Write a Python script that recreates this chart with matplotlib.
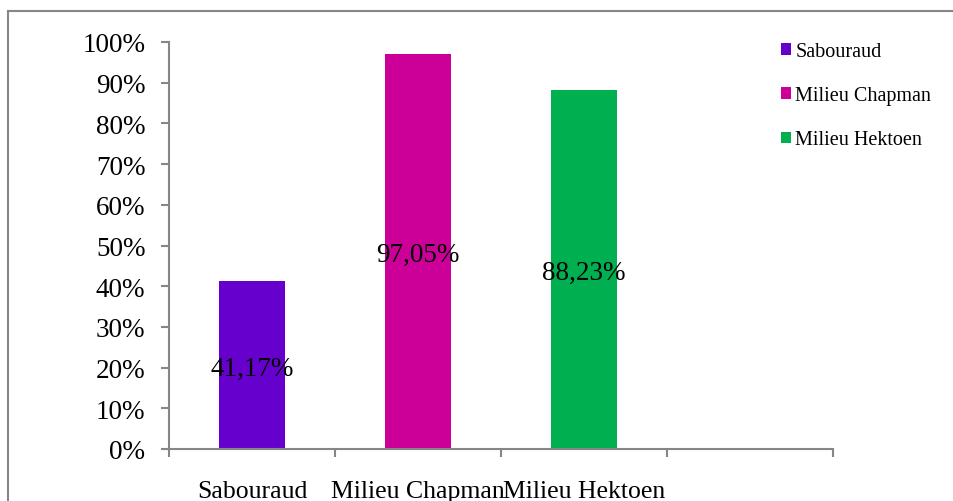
import matplotlib
matplotlib.use("Agg")
import matplotlib.pyplot as plt
from matplotlib.lines import Line2D
from matplotlib.patches import Patch

categories = ["Sabouraud", "Milieu Chapman", "Milieu Hektoen"]
values = [41.17, 97.05, 88.23]
value_labels = ["41,17%", "97,05%", "88,23%"]
colors = ["#6600CC", "#CC0099", "#00B050"]
n_slots = 4
y_ticks = list(range(0, 101, 10))

plt.rcParams["font.family"] = ["Liberation Serif", "DejaVu Serif"]

fig = plt.figure(figsize=(9.54, 5.02), dpi=100)
ax = fig.add_axes([169 / 954, 52 / 502, (833 - 169) / 954, (450 - 43) / 502])

grey = "#868686"
xs = list(range(len(categories)))
bars = ax.bar(xs, values, width=0.4, color=colors)
for x, v, lab in zip(xs, values, value_labels):
    ax.text(x, v / 2, lab, ha="center", va="center_baseline", fontsize=19.5, color="black")

ax.set_xlim(-0.5, n_slots - 0.5)
ax.set_ylim(0, 100)
ax.set_yticks(y_ticks)
ax.set_yticklabels([f"{t}%" for t in y_ticks], fontsize=19.5)
ax.set_xticks([i - 0.5 for i in range(n_slots + 1)])
ax.set_xticklabels([])
ax.set_xticks(xs, minor=True)
ax.set_xticklabels(categories, minor=True, fontsize=18.5)
ax.tick_params(axis="x", which="minor", length=0, pad=22)
ax.tick_params(axis="both", which="major", length=6, width=1.5, color=grey, direction="out")
ax.tick_params(axis="y", pad=11)

for s in ("top", "right"):
    ax.spines[s].set_visible(False)
for s in ("left", "bottom"):
    ax.spines[s].set_color(grey)
    ax.spines[s].set_linewidth(1.5)

handles = [Patch(facecolor=c, edgecolor="none") for c in colors]
fig.legend(handles, categories, loc="upper left", bbox_to_anchor=(773 / 954, 1 - 35 / 502),
           frameon=False, fontsize=14.5, handlelength=0.5, handleheight=0.5,
           handletextpad=0.2, labelspacing=1.25, borderaxespad=0)

# outer frame of the chart area
fig.add_artist(Line2D([8 / 954, 8 / 954], [0, 1 - 12 / 502], color=grey, lw=1.5))
fig.add_artist(Line2D([8 / 954, 1], [1 - 12 / 502, 1 - 12 / 502], color=grey, lw=1.5))

fig.savefig("out.png", dpi=100, facecolor="white")
